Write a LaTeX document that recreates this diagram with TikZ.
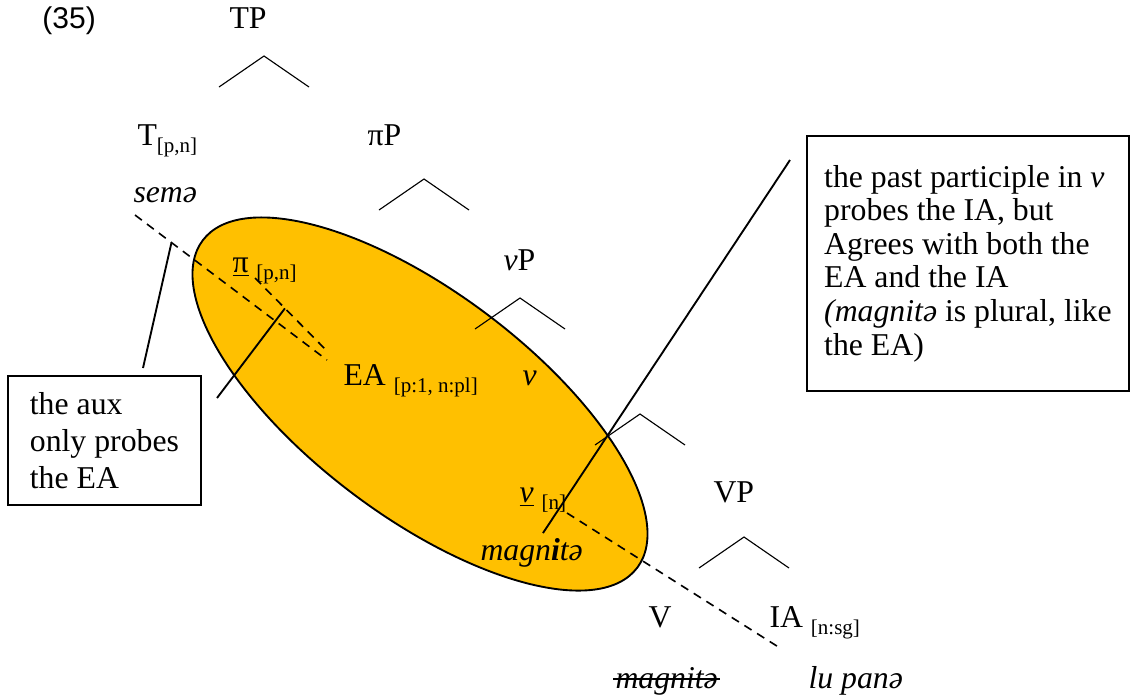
\documentclass[tikz,border=0pt]{standalone}
\usepackage{fontspec}
\setmainfont{Liberation Serif}
\newfontfamily\synsans{Liberation Sans}
\usetikzlibrary{shapes.geometric, calc}
\definecolor{synInk}{HTML}{000000}
\definecolor{synGold}{HTML}{FFC000}
\newcommand{\synsize}{\fontsize{12.7}{13.44}\selectfont}
\newcommand{\synsub}[1]{\raisebox{-2.8pt}{\fontsize{8.4}{9}\selectfont #1}}
\tikzset{
  synlabel/.style={
    anchor=base west, inner sep=0pt, text=synInk, font=\synsize,
  },
  synroofline/.style={draw=synInk, line width=0.45pt},
  synprobe/.style={
    draw=synInk, line width=0.65pt, dash pattern=on 3.4pt off 2.6pt,
  },
  synlink/.style={draw=synInk, line width=0.75pt},
  synnote/.style={
    draw=synInk, line width=0.75pt, anchor=north west, align=left,
    inner sep=0pt, font=\synsize,
  },
  synblob/.style={
    ellipse, draw=synInk, fill=synGold, line width=0.75pt, inner sep=0pt,
  },
}
\newcommand{\synroof}[2]{%
  \coordinate (#1) at (#2);%
  \draw[synroofline] ($(#1)+(-45,31)$) -- (#1) -- ($(#1)+(45,31)$);%
}

\begin{document}
\begin{tikzpicture}[x=0.4pt, y=-0.4pt]
\useasboundingbox (0,0) rectangle (1132,696);

% Agree domain ------------------------------------------------------------
\node[synblob, minimum width=217.6pt, minimum height=89.6pt, rotate=-37]
  (agree) at (420,404) {};

% Tree --------------------------------------------------------------------
\node[synlabel, font=\fontsize{12}{13.44}\selectfont\synsans] (ex) at (42,28) {(35)};
\node[synlabel] (TP) at (229,28) {TP};
\node[synlabel] (T) at (137,145) {T\synsub{[p,n]}};
\node[synlabel] (sem) at (133,202) {\textit{semə}};
\node[synlabel] (piP) at (367,145) {πP};
\node[synlabel] (pi) at (232,272) {\underline{π}\ \synsub{[p,n]}};
\node[synlabel] (vP) at (503,270) {\textit{v}P};
\node[synlabel] (EA) at (343,385) {EA \synsub{[p:1, n:pl]}};
\node[synlabel] (vbar) at (522,385) {\textit{v}};
\node[synlabel] (vhead) at (519,502) {\underline{\textit{v}}\ \synsub{[n]}};
\node[synlabel] (magn) at (480,560) {\textit{magn\textbf{i}tə}};
\node[synlabel] (VP) at (713,502) {VP};
\node[synlabel] (V) at (648,627) {V};
\node[synlabel] (IA) at (769,627) {IA \synsub{[n:sg]}};
\node[synlabel] (magnDel) at (615,688) {\textit{magnitə}};
\node[synlabel] (luPane) at (808,688) {\textit{lu panə}};

\synroof{rTP}{264,56}
\synroof{rpiP}{424,179}
\synroof{rvP}{520,298}
\synroof{rvbar}{640,414}
\synroof{rVP}{744,537}

\draw[synlink, line width=0.6pt] ($(magnDel.base west)+(-2,-9)$) --
  ($(magnDel.base east)+(2,-9)$);

% Probes ------------------------------------------------------------------
\coordinate (semTail) at (135,215);
\coordinate (semHead) at (327,360);
\coordinate (piTail) at (255,278);
\coordinate (piHead) at (328,352);
\coordinate (vTail) at (567,513);
\coordinate (vHead) at (780,648);

\draw[synprobe] (semTail) -- coordinate[pos=0.19] (semHit) (semHead);
\draw[synprobe] (piTail) -- coordinate[pos=0.41] (piHit) (piHead);
\draw[synprobe] (vTail) -- (vHead);

% Notes -------------------------------------------------------------------
\node[synnote, minimum width=77.2pt, minimum height=51.6pt,
  font=\fontsize{12.7}{14.8}\selectfont] (auxnote) at (7,375)
  {the aux\\only probes\\the EA};
\node[synnote, minimum width=128.8pt, minimum height=102pt] (partnote)
  at (806,135) {the past participle in \textit{v}\\probes the IA, but\\
  Agrees with both the\\EA and the IA\\\textit{(magnitə} is plural, like\\
  the EA)};

\coordinate (auxFoot) at (143,368);
\coordinate (auxSide) at (217,398);
\coordinate (partTop) at (790,160);
\coordinate (partFoot) at (543,533);

\draw[synlink] (auxFoot) -- (semHit);
\draw[synlink] (auxSide) -- (piHit);
\draw[synlink] (partTop) -- (partFoot);

\end{tikzpicture}
\end{document}
